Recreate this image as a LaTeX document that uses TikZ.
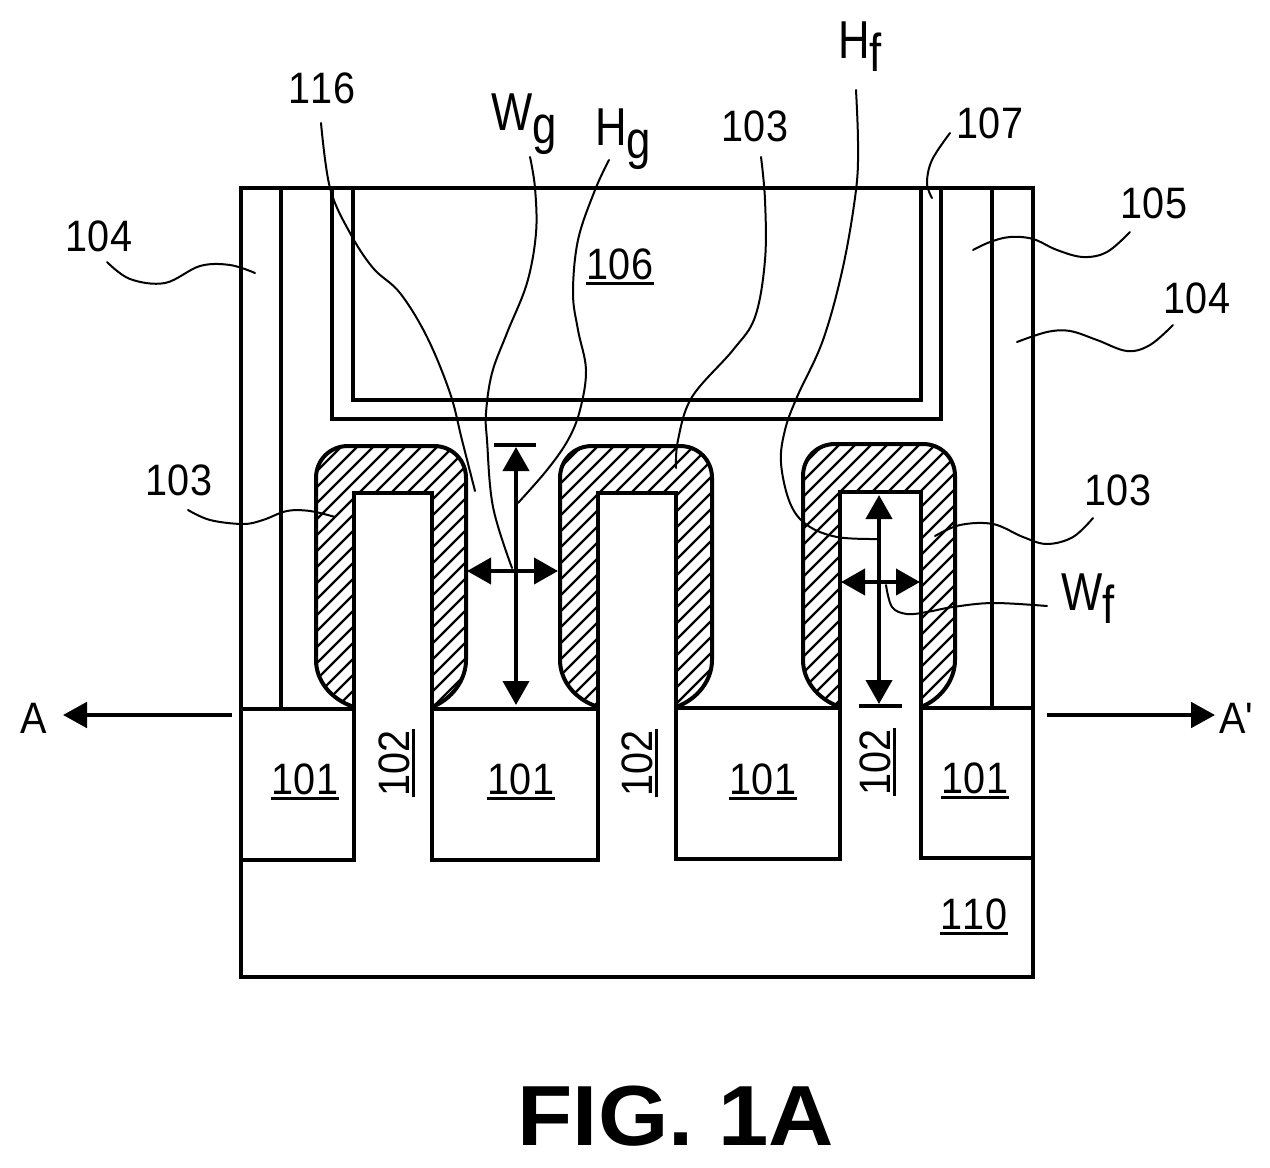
\documentclass[tikz,border=0pt]{standalone}
\usepackage{fontspec}
\setmainfont[Kerning=Off]{Liberation Sans}
\newfontfamily\straightfont[Mapping=]{Liberation Sans}
\usetikzlibrary{arrows.meta}
\newcommand{\numfont}{\fontsize{33}{33}\selectfont}
\newcommand{\dimfont}{\fontsize{40}{40}\selectfont}
\newcommand{\numtxt}[1]{\scalebox{.9}[1]{\numfont #1}}
\newcommand{\ulnum}[1]{\setbox0\hbox{\numtxt{#1}}\vbox{\hbox{\kern1pt\box0\kern1pt}\kern1.6pt\hrule height 2.6pt}}
\newcommand{\dimtxt}[2]{\scalebox{.82}[1]{\dimfont #1\raisebox{-9.75pt}{#2}}}
\tikzset{
  wall/.style={line width=3pt,line cap=rect,line join=miter},
  hatchline/.style={line width=1.7pt},
  leader/.style={line width=1.5pt,line cap=round},
  dima/.style={line width=3pt,{Triangle[length=18pt,width=19.5pt]}-{Triangle[length=18pt,width=19.5pt]}},
  sect/.style={line width=3pt,-{Triangle[length=18pt,width=19pt]}},
  num/.style={inner sep=0pt,anchor=center},
  dimlab/.style={inner sep=0pt,anchor=base west},
}
\newcommand{\capoutline}[5]{% L R T footL footR
  (#4,707) .. controls ({#1+14},699) and (#1,680) .. (#1,660)
  -- (#1,{#3+32}) .. controls (#1,{#3+14}) and ({#1+14},#3) .. ({#1+32},#3)
  -- ({#2-32},#3) .. controls ({#2-14},#3) and (#2,{#3+14}) .. (#2,{#3+32})
  -- (#2,660) .. controls (#2,680) and ({#2-14},699) .. (#5,707)}
\newcommand{\hatchedcap}[6]{% L R T footL footR finTop
  \begin{scope}
    \clip \capoutline{#1}{#2}{#3}{#4}{#5} -- cycle;
    \foreach \c in {740,756,...,1700}
      \draw[hatchline] ({\c-430},430) -- ({\c-720},720);
  \end{scope}
  \fill[white] (#4,#6) rectangle (#5,730);
  \draw[wall,line cap=round] \capoutline{#1}{#2}{#3}{#4}{#5};
}
\begin{document}
\begin{tikzpicture}[x=0.75pt,y=-0.75pt]
\useasboundingbox (0,0) rectangle (1270,1167);
\fill[white] (0,0) rectangle (1270,1167);

% hatched liners
\hatchedcap{316}{466}{446}{354}{432}{493}
\hatchedcap{560}{712}{446}{598}{676}{493}
\hatchedcap{803}{955}{444}{840}{921}{492}

% outer body and substrate
\draw[wall] (241,188) rectangle (1033,977);
\draw[wall] (281,188) -- (281,709);
\draw[wall] (992,188) -- (992,708);
\draw[wall] (332,188) -- (332,419) -- (941,419) -- (941,188);
\draw[wall] (353,188) -- (353,400) -- (921,400) -- (921,188);

% oxide tops and bottoms with the fins
\draw[wall] (241,709) -- (354,709);
\draw[wall] (432,709) -- (598,709);
\draw[wall] (676,708) -- (840,708);
\draw[wall] (921,708) -- (1033,708);
\draw[wall] (241,860) -- (354,860) -- (354,493) -- (432,493) -- (432,860) -- (598,860) -- (598,493) -- (676,493) -- (676,859) -- (840,859) -- (840,492) -- (921,492) -- (921,858) -- (1033,858);

% dimension arrows
\coordinate (hgT) at (516,447);
\coordinate (hgB) at (516,705);
\coordinate (wgL) at (467,571);
\coordinate (wgR) at (558,571);
\coordinate (hfT) at (879,495);
\coordinate (hfB) at (879,704);
\coordinate (wfL) at (841,582);
\coordinate (wfR) at (920,582);
\draw[wall] (496,445) -- (534,445);
\draw[wall] (861,706) -- (900,706);
\draw[dima] (hgT) -- (hgB);
\draw[dima] (wgL) -- (wgR);
\draw[dima] (hfT) -- (hfB);
\draw[dima] (wfL) -- (wfR);

% section arrows
\coordinate (aS) at (232,715);
\coordinate (aE) at (63,715);
\coordinate (bS) at (1047,715);
\coordinate (bE) at (1215,715);
\draw[sect] (aS) -- (aE);
\draw[sect] (bS) -- (bE);
\node[num] (lA) at (34,718) {\numtxt{A}};
\node[num] (lB) at (1236,718) {\numtxt{A{\straightfont '}}};

% numerals
\node[num] (n116) at (322,88) {\numtxt{116}};
\node[num] (n103a) at (755,126) {\numtxt{103}};
\node[num] (n107) at (990,123) {\numtxt{107}};
\node[num] (n105) at (1154,203) {\numtxt{105}};
\node[num] (n104b) at (1197,298) {\numtxt{104}};
\node[num] (n104a) at (99,236) {\numtxt{104}};
\node[num] (n103b) at (179,480) {\numtxt{103}};
\node[num] (n103c) at (1118,490) {\numtxt{103}};
\node[num] (n106) at (620,267) {\ulnum{106}};
\node[num] (n110) at (974,917) {\ulnum{110}};
\node[num] (n101a) at (305,782) {\ulnum{101}};
\node[num] (n101b) at (521,782) {\ulnum{101}};
\node[num] (n101c) at (763,782) {\ulnum{101}};
\node[num] (n101d) at (975,781) {\ulnum{101}};
\node[num,rotate=90] (n102a) at (397,763) {\ulnum{102}};
\node[num,rotate=90] (n102b) at (640,763) {\ulnum{102}};
\node[num,rotate=90] (n102c) at (878,762) {\ulnum{102}};
\node[dimlab] (wg) at (491,130) {\dimtxt{W}{g}};
\node[dimlab] (hg) at (595,145) {\dimtxt{H}{g}};
\node[dimlab] (hf) at (838,58) {\dimtxt{H}{f}};
\node[dimlab] (wf) at (1061,610) {\dimtxt{W}{f}};
\node[inner sep=0pt,anchor=base] (fig) at (676,1145) {\scalebox{1.06}[1]{\fontsize{64}{64}\selectfont\bfseries FIG. 1A}};

% leader lines
\coordinate (e116) at (475,491);
\coordinate (ewg) at (512,568);
\coordinate (ehg) at (518,503);
\coordinate (e103a) at (676,468);
\coordinate (ehf) at (878,539);
\coordinate (e107) at (932,198);
\coordinate (e105) at (973,250);
\coordinate (e104b) at (1017,342);
\coordinate (e104a) at (255,273);
\coordinate (e103b) at (335,517);
\coordinate (e103c) at (935,536);
\coordinate (ewf) at (886,585);
\draw[leader] plot[smooth,tension=.6] coordinates {(321,123) (330,188) (350,233) (373,268) (400,293) (427,337) (450,393) (462,440) (e116)};
\draw[leader] plot[smooth,tension=.6] coordinates {(530,157) (535,188) (536,233) (527,283) (507,333) (492,373) (486,413) (487,440) (493,507) (ewg)};
\draw[leader] plot[smooth,tension=.6] coordinates {(609,160) (595,190) (578,240) (573,293) (578,330) (586,370) (580,410) (568,440) (547,470) (ehg)};
\draw[leader] plot[smooth,tension=.6] coordinates {(761,157) (765,200) (765,260) (755,317) (733,350) (692,397) (678,440) (e103a)};
\draw[leader] plot[smooth,tension=.6] coordinates {(856,90) (858,143) (856,190) (843,267) (823,340) (797,397) (785,430) (781,463) (790,503) (807,525) (837,537) (ehf)};
\draw[leader] plot[smooth,tension=.6] coordinates {(950,133) (932,160) (927,183) (e107)};
\draw[leader] plot[smooth,tension=.6] coordinates {(1130,232) (1107,252) (1083,257) (1057,250) (1033,239) (1010,237) (990,242) (e105)};
\draw[leader] plot[smooth,tension=.6] coordinates {(1173,325) (1150,345) (1127,351) (1097,340) (1070,331) (1047,332) (e104b)};
\draw[leader] plot[smooth,tension=.6] coordinates {(107,262) (130,279) (165,283) (200,266) (230,265) (e104a)};
\draw[leader] plot[smooth,tension=.6] coordinates {(188,510) (210,520) (243,524) (263,520) (287,511) (310,511) (e103b)};
\draw[leader] plot[smooth,tension=.6] coordinates {(1093,518) (1073,537) (1047,544) (1023,537) (993,524) (960,525) (e103c)};
\draw[leader] plot[smooth,tension=.6] coordinates {(1047,606) (993,603) (953,607) (927,612) (907,614) (892,607) (ewf)};
\end{tikzpicture}
\end{document}
